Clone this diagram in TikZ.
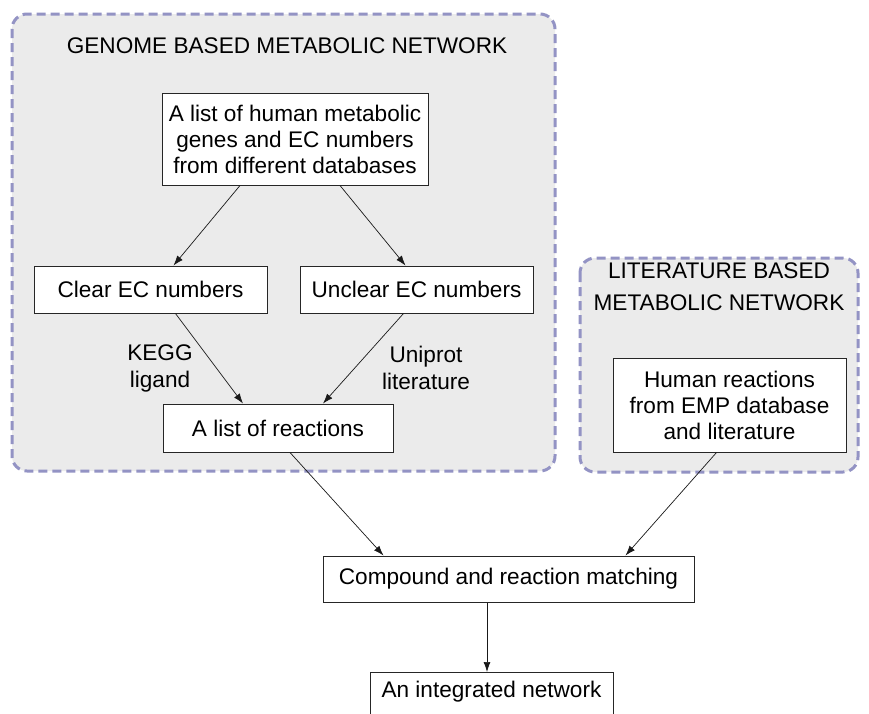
\documentclass[tikz,border=0pt]{standalone}
\usepackage{fontspec}
\setmainfont{Liberation Sans}
\usetikzlibrary{arrows.meta}
\definecolor{regionfill}{HTML}{EBEBEB}
\definecolor{regionline}{HTML}{9393C4}
\tikzset{
  region/.style={draw=regionline, fill=regionfill, line width=3pt, dash pattern=on 9pt off 5pt, rounded corners=15pt},
  stepbox/.style={draw=black!85, fill=white, line width=1pt, align=center, inner sep=0pt,
    font=\fontsize{22.6}{26}\selectfont},
  lbl/.style={align=center, inner sep=0pt, font=\fontsize{22.6}{27}\selectfont},
  arr/.style={draw=black!90, line width=0.7pt, -{Latex[length=10pt,width=7pt]}}
}
\begin{document}
\begin{tikzpicture}[x=1pt,y=-1pt]
\clip (0,0) rectangle (869,713);
\fill[white] (0,0) rectangle (869,713);
% regions
\draw[region] (12,14) rectangle (555,471);
\draw[region] (580,258) rectangle (858,472);
\node[lbl] (gtitle) at (287,46) {GENOME BASED METABOLIC NETWORK};
\node[lbl, font=\fontsize{22.6}{32}\selectfont] (ltitle) at (719,287) {LITERATURE BASED\\METABOLIC NETWORK};
% boxes
\node[stepbox, minimum width=266pt, minimum height=92pt] (genes) at (295,139)
  {A list of human metabolic\\genes and EC numbers\\from different databases};
\node[stepbox, minimum width=233pt, minimum height=47pt] (clear) at (150.5,289.5) {Clear EC numbers};
\node[stepbox, minimum width=233pt, minimum height=47pt] (unclear) at (416.5,289.5) {Unclear EC numbers};
\node[stepbox, minimum width=230pt, minimum height=48pt] (reac) at (278,428) {A list of reactions};
\node[stepbox, minimum width=233pt, minimum height=94pt] (human) at (729.5,405)
  {Human reactions\\from EMP database\\and literature};
\node[stepbox, minimum width=371pt, minimum height=46pt] (comp) at (508.5,579) {Compound and reaction matching};
\node[stepbox, minimum width=243pt, minimum height=60pt, anchor=north] (integ) at (491.5,672) {};
\node[lbl] (integtext) at (491.5,692) {An integrated network};
% labels
\node[lbl] (kegg) at (160,368) {KEGG\\ligand};
\node[lbl] (uni) at (426,368) {Uniprot\\literature};
% connectors
\draw[arr] ([xshift=-55pt]genes.south) -- ([xshift=23pt]clear.north);
\draw[arr] ([xshift=45pt]genes.south) -- ([xshift=-11pt]unclear.north);
\draw[arr] ([xshift=25pt]clear.south) -- ([xshift=-35pt]reac.north);
\draw[arr] ([xshift=-13pt]unclear.south) -- ([xshift=45pt]reac.north);
\draw[arr] ([xshift=12pt]reac.south) -- ([xshift=-125pt]comp.north);
\draw[arr] ([xshift=-13pt]human.south) -- ([xshift=117pt]comp.north);
\draw[arr] ([xshift=-21.5pt]comp.south) -- ([xshift=-4.5pt]integ.north);
\end{tikzpicture}
\end{document}
